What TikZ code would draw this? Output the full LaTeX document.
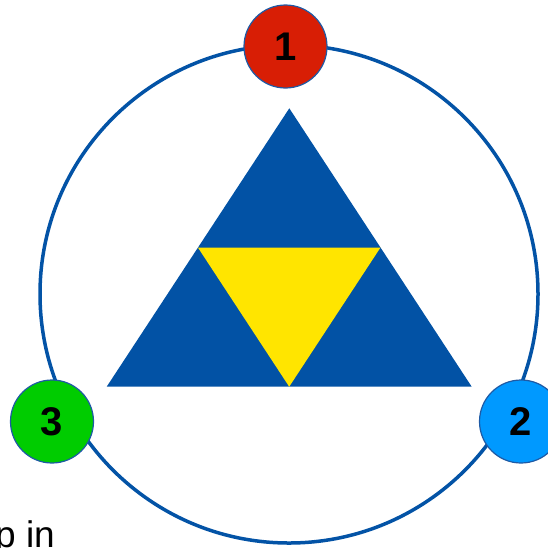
\documentclass[tikz,border=0pt]{standalone}
\usepackage{fontspec}
\setmainfont{Liberation Sans}
\definecolor{ringblue}{RGB}{3,83,166}
\definecolor{triblue}{RGB}{2,82,165}
\definecolor{triyellow}{RGB}{255,229,0}
\definecolor{numred}{RGB}{216,30,5}
\definecolor{numblue}{RGB}{0,153,255}
\definecolor{numgreen}{RGB}{0,204,0}
\definecolor{edgeblue}{RGB}{30,90,165}
\begin{document}
\begin{tikzpicture}[x=1pt,y=-1pt,
  numcircle/.style={circle,draw=edgeblue,line width=1.2pt,minimum size=83pt,inner sep=0pt,
    font=\bfseries\fontsize{40}{40}\selectfont,text=black},
  ring/.style={draw=ringblue,line width=3.5pt}]
\path[use as bounding box] (0,0) rectangle (548,547);
\clip (0,0) rectangle (548,547);
% big ring
\coordinate (c) at (289,294);
\draw[ring] (c) circle[radius=249pt];
% triangles
\coordinate (tA) at (289.3,108.3);
\coordinate (tL) at (106.7,386.7);
\coordinate (tR) at (471.7,386.7);
\coordinate (mL) at (197.9,247.5);
\coordinate (mR) at (380.5,247.5);
\coordinate (mB) at (289.2,386.7);
\fill[triblue] (tA) -- (tR) -- (tL) -- cycle;
\fill[triyellow] (mL) -- (mR) -- (mB) -- cycle;
% numbered circles
\node[numcircle,fill=numred] (n1) at (285.5,46.5) {1};
\node[numcircle,fill=numblue] (n2) at (521,421.5) {2};
\node[numcircle,fill=numgreen] (n3) at (52,421.5) {3};
% cut-off text
\node[anchor=base west,inner sep=0pt,font=\fontsize{37}{37}\selectfont] (txt) at (-5,547.5) {p in};
\end{tikzpicture}
\end{document}
